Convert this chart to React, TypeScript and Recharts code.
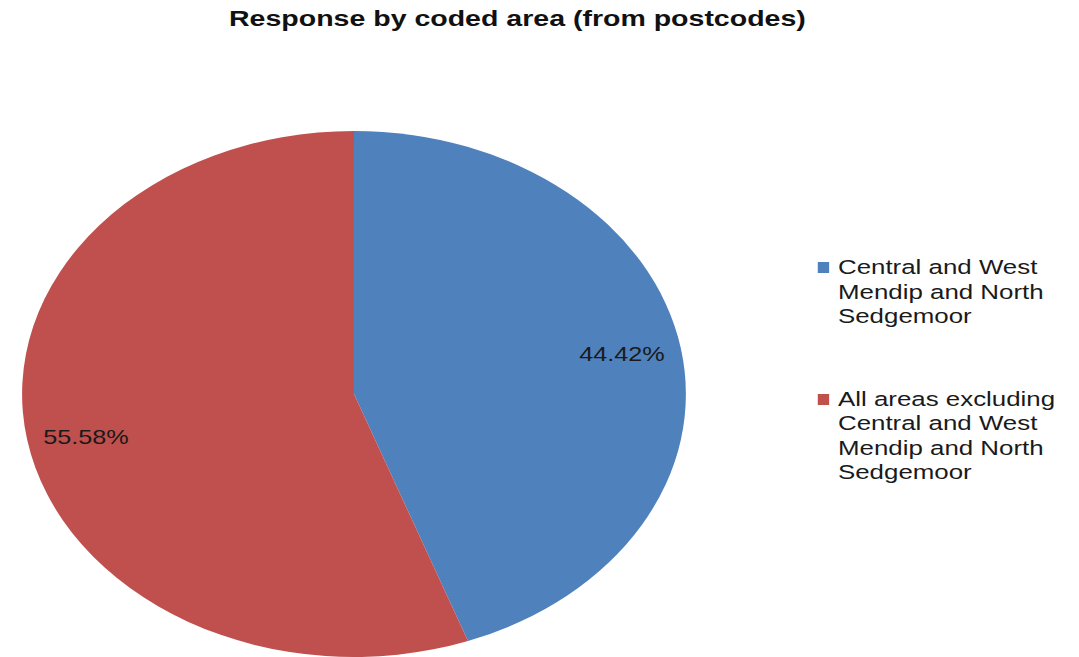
import { PieChart, Pie, Cell, Legend, Sector } from "recharts";

const areas = [
  "Central and West Mendip and North Sedgemoor",
  "All areas excluding Central and West Mendip and North Sedgemoor",
];
const shares = [44.42, 55.58];
const colors = ["#4F81BD", "#C0504D"];

const data = areas.map((name, i) => ({ name, value: shares[i], color: colors[i] }));

// the original picture is stretched sideways, so draw unstretched and scale the whole thing
const STRETCH = 1.262;
const W = 855;
const H = 657;
const FONT = "'Liberation Sans', Arial, sans-serif";

const PctLabel = ({ cx, cy, midAngle, outerRadius, value }: any) => {
  const RADIAN = Math.PI / 180;
  const r = outerRadius * 0.82;
  const x = cx + r * Math.cos(-midAngle * RADIAN);
  const y = cy + r * Math.sin(-midAngle * RADIAN);
  return (
    <text
      x={x}
      y={y + (x < cx ? 5 : -2)}
      fill="#1a1a1a"
      textAnchor="middle"
      dominantBaseline="central"
      style={{ fontFamily: FONT, fontSize: 20 }}
    >
      {`${value.toFixed(2)}%`}
    </text>
  );
};

const LegendBox = ({ payload }: any) => {
  const items = [...(payload || [])].sort((a: any, b: any) => areas.indexOf(a.value) - areas.indexOf(b.value));
  return (
    <div style={{ fontFamily: FONT, fontSize: 20.5, lineHeight: "24.5px", color: "#1a1a1a" }}>
      {items.map((entry: any, i: number) => (
        <div key={`leg-${i}`} style={{ display: "flex", alignItems: "flex-start", marginBottom: i === 0 ? 58 : 0 }}>
          <span style={{ display: "inline-block", width: 9, height: 11, background: entry.color, marginTop: 7, marginRight: 7, flexShrink: 0 }} />
          <span style={{ width: 195 }}>{entry.value}</span>
        </div>
      ))}
    </div>
  );
};

export default function App() {
  return (
    <div style={{ position: "absolute", left: 0, top: 0, width: 1079, height: H, background: "#fff", overflow: "hidden" }}>
      <div style={{ width: W, height: H, transform: `scaleX(${STRETCH})`, transformOrigin: "0 0", position: "relative" }}>
        <div
          style={{
            position: "absolute",
            top: 6,
            left: 0,
            width: 820,
            textAlign: "center",
            fontFamily: FONT,
            fontWeight: "bold",
            fontSize: 22.6,
            color: "#111",
          }}
        >
          Response by coded area (from postcodes)
        </div>
        <PieChart width={W} height={H} margin={{ top: 0, right: 0, bottom: 0, left: 0 }}>
          <Pie
            data={data}
            dataKey="value"
            nameKey="name"
            cx={280.5}
            cy={394}
            outerRadius={263}
            startAngle={90}
            endAngle={-270}
            stroke="none"
            labelLine={false}
            label={PctLabel}
            isAnimationActive={false}
            shape={(props: any) => <Sector {...props} />}
          >
            {data.map((entry, index) => (
              <Cell key={`cell-${index}`} fill={entry.color} />
            ))}
          </Pie>
          <Legend
            content={<LegendBox />}
            layout="vertical"
            wrapperStyle={{ position: "absolute", left: 648, top: 255, width: 210 }}
          />
        </PieChart>
      </div>
    </div>
  );
}
